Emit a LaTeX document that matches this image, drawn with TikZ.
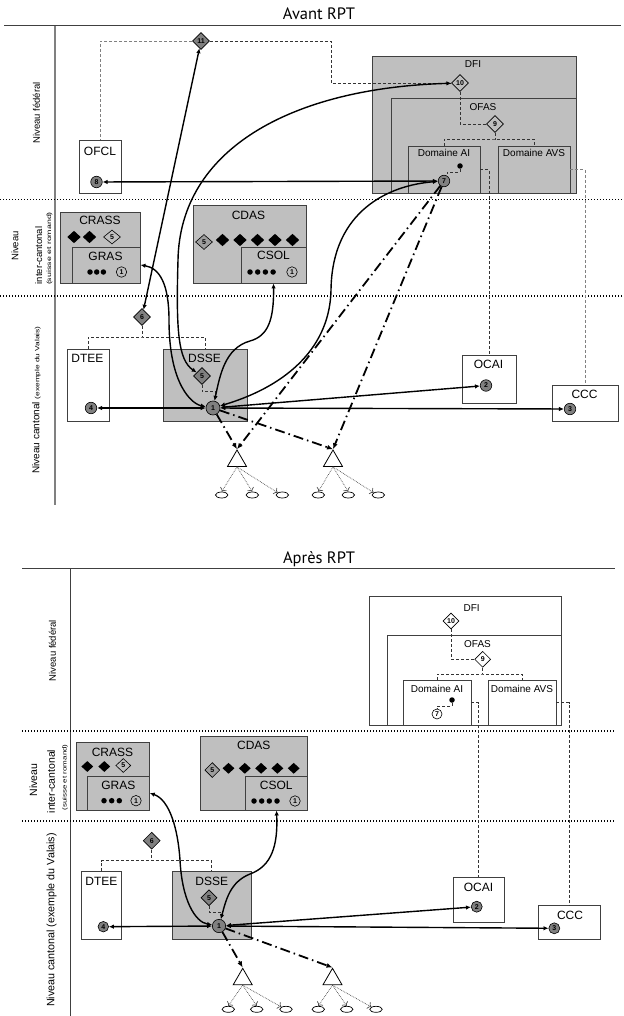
\documentclass[tikz,border=0pt]{standalone}
\usepackage{graphicx}
\usepackage{fontspec}
\setmainfont{Liberation Sans}
\newfontfamily\headfont{PT Sans}
\usetikzlibrary{shapes.geometric, arrows.meta}

\definecolor{boxgray}{gray}{0.75}
\definecolor{midgray}{gray}{0.62}
\definecolor{dkgray}{gray}{0.5}
\definecolor{edge}{gray}{0.25}

\tikzset{
  box/.style={draw=edge, line width=0.9pt, fill=white, inner sep=0pt},
  gbox/.style={box, fill=boxgray},
  lab/.style={font=\fontsize{12}{12}\selectfont, inner sep=0pt},
  sublab/.style={font=\fontsize{10}{10}\selectfont, inner sep=0pt},
  lvl/.style={rotate=90, inner sep=0pt, font=\fontsize{9.5}{10}\selectfont},
  head/.style={font=\headfont\fontsize{16.5}{17}\selectfont, inner sep=0pt, anchor=base},
  num/.style={circle, draw=black, line width=0.6pt, fill=dkgray, minimum size=11.5pt,
    inner sep=0pt, font=\fontsize{7}{7}\selectfont\bfseries},
  lnum/.style={num, fill=boxgray, minimum size=10.5pt},
  rhomb/.style={diamond, draw=black, line width=0.6pt, fill=dkgray, minimum size=17pt,
    inner sep=0pt, font=\fontsize{7}{7}\selectfont\bfseries},
  lrhomb/.style={rhomb, fill=boxgray},
  blk/.style={diamond, fill=black, minimum width=13.5pt, minimum height=12.5pt, inner sep=0pt},
  pip/.style={circle, fill=black, minimum size=5.5pt, inner sep=0pt},
  tri/.style={regular polygon, regular polygon sides=3, draw=black, line width=0.8pt,
    fill=white, minimum size=22pt, inner sep=0pt},
  oval/.style={ellipse, draw=black, line width=0.7pt, fill=white, minimum width=12.5pt,
    minimum height=6pt, inner sep=0pt},
  link/.style={line width=1.4pt, <->, >={Latex[length=5pt,width=4.5pt]}},
  flow/.style={line width=1.8pt, dash pattern=on 10pt off 4pt on 1.5pt off 4pt,
    -{Latex[length=6pt,width=5pt]}},
  sub/.style={draw=black!70, line width=0.7pt, densely dotted, -{To[length=3.5pt]}},
  hier/.style={draw=black!80, line width=0.7pt, dash pattern=on 3pt off 2pt},
  sep/.style={line width=1.2pt, dash pattern=on 1.2pt off 1.8pt},
  frame/.style={draw=black!75, line width=1pt}
}

\begin{document}
\begin{tikzpicture}[x=1pt, y=-1pt]
  \useasboundingbox (0,0) rectangle (623,1016);

  % ================= Avant RPT =================
  \node[head] (h1) at (319,19.3) {Avant RPT};
  \draw[frame] (4,26) -- (621,26);
  \draw[frame, draw=gray, line width=1.4pt] (55,26) -- (55,505);
  \draw[sep] (0,199.5) -- (623,199.5);
  \draw[sep] (0,296) -- (623,296);
  \node[lvl] (fed1) at (36.5,113) {Niveau fédéral};
  \node[lvl] (ic1a) at (15,246) {Niveau};
  \node[lvl] (ic1b) at (38.8,255.5) {inter-cantonal};
  \node[lvl] (ic1c) at (49.5,248.5) {\fontsize{8.8}{9}\selectfont\scalebox{1}[0.7]{(suisse et romand)}};
  \node[lvl, font=\fontsize{10}{10}\selectfont] (ct1) at (36.5,400)
    {Niveau cantonal \fontsize{8.3}{9}\selectfont\scalebox{1}[0.75]{(exemple du Valais)}};

  % niveau federal
  \node[box, minimum width=42pt, minimum height=53pt] (ofcl) at (100,166.5) {};
  \node[lab] (ofcl-t) at (100,151) {OFCL};
  \node[gbox, minimum width=204pt, minimum height=137pt] (dfi) at (474,124.5) {};
  \node[sublab] (dfi-t) at (473,64.5) {DFI};
  \node[gbox, minimum width=185pt, minimum height=95pt] (ofas) at (483.5,145.5) {};
  \node[sublab] (ofas-t) at (483,107) {OFAS};
  \node[gbox, minimum width=72pt, minimum height=47pt] (domai) at (444,169.5) {};
  \node[sublab] (domai-t) at (444,153) {Domaine AI};
  \node[gbox, minimum width=72pt, minimum height=47pt] (domavs) at (534,169.5) {};
  \node[sublab] (domavs-t) at (534,153) {Domaine AVS};
  \node[rhomb] (d11) at (201,41) {11};
  \node[lrhomb] (d10) at (460,83) {10};
  \node[lrhomb] (d9) at (495,124) {9};
  \node[pip] (dot7) at (460,166) {};
  \node[num] (c7) at (444,181) {7};
  \node[num] (c8) at (96.5,182) {8};

  % niveau inter-cantonal
  \node[gbox, minimum width=80pt, minimum height=71pt] (crass) at (100,247.5) {};
  \node[lab] (crass-t) at (100,220) {CRASS};
  \node[blk] (crass-a) at (74,237) {};
  \node[blk] (crass-b) at (89.5,237) {};
  \node[lrhomb, minimum width=17pt, minimum height=14pt] (crass-5) at (112,237) {5};
  \node[gbox, minimum width=68pt, minimum height=36pt] (gras) at (106,265) {};
  \node[lab] (gras-t) at (105.5,256) {GRAS};
  \node[pip] (gras-a) at (90,272) {};
  \node[pip] (gras-b) at (96.7,272) {};
  \node[pip] (gras-c) at (103.4,272) {};
  \node[lnum] (gras-1) at (121.5,272) {1};
  \node[gbox, minimum width=113pt, minimum height=78pt] (cdas) at (249.5,244) {};
  \node[lab] (cdas-t) at (248.5,215) {CDAS};
  \node[rhomb, fill=midgray, minimum width=17pt, minimum height=15pt] (cdas-5) at (204,242) {5};
  \node[blk] (cdas-a) at (222.5,240) {};
  \node[blk] (cdas-b) at (240,240) {};
  \node[blk] (cdas-c) at (257.5,240) {};
  \node[blk] (cdas-d) at (275,240) {};
  \node[blk] (cdas-e) at (292.5,240) {};
  \node[gbox, minimum width=65pt, minimum height=36pt] (csol) at (273.5,265) {};
  \node[lab] (csol-t) at (273.5,255.5) {CSOL};
  \node[pip] (csol-a) at (250,272) {};
  \node[pip] (csol-b) at (257.7,272) {};
  \node[pip] (csol-c) at (265.4,272) {};
  \node[pip] (csol-d) at (273.1,272) {};
  \node[lnum] (csol-1) at (292,272) {1};

  % niveau cantonal
  \node[rhomb] (d6) at (142,317) {6};
  \node[box, minimum width=42pt, minimum height=72pt] (dtee) at (88,385) {};
  \node[lab] (dtee-t) at (87.5,358) {DTEE};
  \node[gbox, minimum width=84pt, minimum height=72pt] (dsse) at (205,385) {};
  \node[lab] (dsse-t) at (204.5,358) {DSSE};
  \node[rhomb] (d5) at (202,376) {5};
  \node[num, minimum size=14pt] (c1) at (213,408) {1};
  \node[num] (c4) at (91,408) {4};
  \node[box, minimum width=54pt, minimum height=48pt] (ocai) at (489,379) {};
  \node[lab] (ocai-t) at (488.5,364.5) {OCAI};
  \node[num] (c2) at (486,385.5) {2};
  \node[box, minimum width=66pt, minimum height=36pt] (ccc) at (585,403) {};
  \node[lab] (ccc-t) at (584.5,394.5) {CCC};
  \node[num] (c3) at (570,409) {3};
  \node[tri] (tri1) at (237,461) {};
  \node[tri] (tri2) at (333,461) {};
  \node[oval] (o1a) at (221.7,495) {};
  \node[oval] (o1b) at (252.3,495) {};
  \node[oval] (o1c) at (282.3,495) {};
  \node[oval] (o2a) at (318.3,495) {};
  \node[oval] (o2b) at (348.3,495) {};
  \node[oval] (o2c) at (378.3,495) {};

  % liens hierarchiques
  \coordinate (k11) at (331,41);
  \coordinate (j9) at (495,139);
  \coordinate (j6) at (142,337);
  \draw[hier, draw=gray] (d11.west) -| (ofcl.north);
  \draw[hier] (d11.east) -- (k11) |- (d10.west);
  \draw[hier] (d10.south) |- (d9.west);
  \draw[hier] (d9.south) -- (j9);
  \draw[hier] (domai.north) |- (j9) -| (domavs.north);
  \draw[hier] (dot7) -- ++(0,6) -| (c7.60);
  \draw[hier] (domai.east) -| (ocai.north);
  \draw[hier, draw=gray] (domavs.east) -| (ccc.north);
  \draw[hier] (d6.south) -- (j6);
  \draw[hier] (dtee.north) |- (j6) -| (dsse.north);
  \draw[hier] (d5.south) -- ++(0,7) -| (c1.70);

  % echanges
  \draw[link] (c8) -- (c7);
  \draw[link] (d11) -- (d6);
  \draw[link] (c4) -- (c1);
  \draw[link] (c1) -- (c2);
  \draw[link] (c1) -- (c3);
  \draw[link] (d10) .. controls (290,88) and (180,150) .. (178,260)
    .. controls (176,330) and (178,360) .. (d5);
  \draw[link] (gras.east) .. controls (160,268) and (169,285) .. (169,320)
    .. controls (169,385) and (192,404) .. (c1);
  \draw[link] (csol.south) .. controls (274,320) and (268,336) .. (250,341)
    .. controls (225,348) and (220,375) .. (c1);
  \draw[link] (c1) .. controls (290,385) and (330,345) .. (331,290)
    .. controls (332,210) and (390,185) .. (c7);
  \draw[flow] (c7) -- (tri1.north);
  \draw[flow] (c7) -- (tri2.north);
  \draw[flow] (c1) -- (tri1.north);
  \draw[flow] (c1) -- (tri2.north);
  \draw[sub] (tri1.south) -- (o1a.north);
  \draw[sub] (tri1.south) -- (o1b.north);
  \draw[sub] (tri1.south) -- (o1c.north west);
  \draw[sub] (tri2.south) -- (o2a.north);
  \draw[sub] (tri2.south) -- (o2b.north);
  \draw[sub] (tri2.south) -- (o2c.north west);

  % ================= Apres RPT =================
  \node[head] (h2) at (319,563.3) {Après RPT};
  \draw[frame] (22,568) -- (615,568);
  \draw[frame] (70,568) -- (70,1016);
  \draw[sep] (22,731) -- (615,731);
  \draw[sep] (22,821) -- (615,821);
  \node[lvl] (fed2) at (52.3,650.5) {Niveau fédéral};
  \node[lvl, font=\fontsize{10.5}{11}\selectfont] (ic2a) at (33.3,780) {Niveau};
  \node[lvl, font=\fontsize{10.5}{11}\selectfont] (ic2b) at (51,781.5) {inter-cantonal};
  \node[lvl] (ic2c) at (65,777.5) {\fontsize{8}{9}\selectfont\scalebox{1}[0.75]{(suisse et romand)}};
  \node[lvl, font=\fontsize{10.7}{11}\selectfont] (ct2) at (51.7,920)
    {Niveau cantonal (exemple du Valais)};

  % niveau federal
  \node[box, minimum width=192pt, minimum height=129pt] (dfib) at (465,660.5) {};
  \node[sublab] (dfib-t) at (471.7,608) {DFI};
  \node[box, minimum width=174pt, minimum height=90pt] (ofasb) at (474,680) {};
  \node[sublab] (ofasb-t) at (477.5,644) {OFAS};
  \node[box, minimum width=68pt, minimum height=45pt] (domaib) at (437,702.5) {};
  \node[sublab] (domaib-t) at (437,688.5) {Domaine AI};
  \node[box, minimum width=68pt, minimum height=45pt] (domavsb) at (522,702.5) {};
  \node[sublab] (domavsb-t) at (522,688.5) {Domaine AVS};
  \node[rhomb, fill=white, minimum size=16pt] (d10b) at (451,621) {10};
  \node[rhomb, fill=white, minimum size=16pt] (d9b) at (482.7,659.3) {9};
  \node[pip] (dot7b) at (452,700) {};
  \node[num, fill=white, minimum size=10pt] (c7b) at (437,714) {7};

  % niveau inter-cantonal
  \node[gbox, minimum width=72.6pt, minimum height=67.3pt] (crassb) at (113,776.4) {};
  \node[lab] (crassb-t) at (112.5,752.3) {CRASS};
  \node[blk, minimum width=12pt, minimum height=11pt] (crassb-a) at (87.3,766.5) {};
  \node[blk, minimum width=12pt, minimum height=11pt] (crassb-b) at (104.3,766.5) {};
  \node[lrhomb, minimum width=15pt, minimum height=14pt] (crassb-5) at (123.3,765.5) {5};
  \node[gbox, minimum width=61.6pt, minimum height=34pt] (grasb) at (118.5,793) {};
  \node[lab] (grasb-t) at (118.3,785) {GRAS};
  \node[pip] (grasb-a) at (104,800.7) {};
  \node[pip] (grasb-b) at (111.7,800.7) {};
  \node[pip] (grasb-c) at (119.3,800.7) {};
  \node[lnum] (grasb-1) at (136,800.7) {1};
  \node[gbox, minimum width=107.3pt, minimum height=73.3pt] (cdasb) at (253.7,773.3) {};
  \node[lab] (cdasb-t) at (253.8,745.8) {CDAS};
  \node[rhomb, fill=midgray, minimum size=15pt] (cdasb-5) at (212.3,770) {5};
  \node[blk, minimum width=12pt, minimum height=11pt] (cdasb-a) at (228.5,768.3) {};
  \node[blk, minimum width=12pt, minimum height=11pt] (cdasb-b) at (244.8,768.3) {};
  \node[blk, minimum width=12pt, minimum height=11pt] (cdasb-c) at (261.1,768.3) {};
  \node[blk, minimum width=12pt, minimum height=11pt] (cdasb-d) at (277.4,768.3) {};
  \node[blk, minimum width=12pt, minimum height=11pt] (cdasb-e) at (293.7,768.3) {};
  \node[gbox, minimum width=61.6pt, minimum height=34pt] (csolb) at (276.5,793) {};
  \node[lab] (csolb-t) at (276.2,785) {CSOL};
  \node[pip] (csolb-a) at (254,801) {};
  \node[pip] (csolb-b) at (261.7,801) {};
  \node[pip] (csolb-c) at (269.3,801) {};
  \node[pip] (csolb-d) at (277,801) {};
  \node[lnum] (csolb-1) at (295,801) {1};

  % niveau cantonal
  \node[rhomb] (d6b) at (151.7,840.7) {6};
  \node[box, minimum width=39.3pt, minimum height=67.6pt] (dteeb) at (101.3,905.5) {};
  \node[lab] (dteeb-t) at (101.5,881.2) {DTEE};
  \node[gbox, minimum width=78.7pt, minimum height=67.6pt] (dsseb) at (211.7,905.5) {};
  \node[lab] (dsseb-t) at (211.7,881) {DSSE};
  \node[rhomb, minimum size=16pt] (d5b) at (209,897.7) {5};
  \node[num, minimum size=13.3pt] (c1b) at (219,926) {1};
  \node[num, minimum size=10.5pt] (c4b) at (103.3,926.7) {4};
  \node[box, minimum width=51pt, minimum height=45pt] (ocaib) at (478.8,899.8) {};
  \node[lab] (ocaib-t) at (478.5,887.5) {OCAI};
  \node[num, minimum size=11pt] (c2b) at (476.7,906.7) {2};
  \node[box, minimum width=61.7pt, minimum height=33.3pt] (cccb) at (569.2,922.3) {};
  \node[lab] (cccb-t) at (570,915) {CCC};
  \node[num, minimum size=11pt] (c3b) at (554.3,928.3) {3};
  \node[tri] (tri1b) at (242.7,979.3) {};
  \node[tri] (tri2b) at (332.5,979.3) {};
  \node[oval] (o1ab) at (228.3,1009.3) {};
  \node[oval] (o1bb) at (256.7,1009.3) {};
  \node[oval] (o1cb) at (286,1009.3) {};
  \node[oval] (o2ab) at (318.3,1009.3) {};
  \node[oval] (o2bb) at (346.7,1009.3) {};
  \node[oval] (o2cb) at (376,1009.3) {};

  % liens hierarchiques
  \coordinate (j9b) at (482.7,674);
  \coordinate (j6b) at (151.7,860.7);
  \draw[hier] (d10b.south) |- (d9b.west);
  \draw[hier] (d9b.south) -- (j9b);
  \draw[hier] (domaib.north) |- (j9b) -| (domavsb.north);
  \draw[hier] (dot7b) -- ++(0,6) -| (c7b.north);
  \draw[hier] (domaib.east) -| (ocaib.north);
  \draw[hier] (domavsb.east) -| (cccb.north);
  \draw[hier] (d6b.south) -- (j6b);
  \draw[hier] (dteeb.north) |- (j6b) -| (dsseb.north);
  \draw[hier] (d5b.south) -- ++(0,6) -| (c1b.70);

  % echanges
  \draw[link] (c4b) -- (c1b);
  \draw[link] (c1b) -- (c2b);
  \draw[link] (c1b) -- (c3b);
  \draw[link] (grasb.east) .. controls (170,800) and (178,830) .. (180,860)
    .. controls (182,900) and (195,922) .. (c1b);
  \draw[link] (csolb.south) .. controls (278,845) and (272,866) .. (250,874)
    .. controls (230,882) and (226,900) .. (c1b);
  \draw[flow] (c1b) -- (tri1b.north);
  \draw[flow] (c1b) -- (tri2b.north);
  \draw[sub] (tri1b.south) -- (o1ab.north);
  \draw[sub] (tri1b.south) -- (o1bb.north);
  \draw[sub] (tri1b.south) -- (o1cb.north west);
  \draw[sub] (tri2b.south) -- (o2ab.north);
  \draw[sub] (tri2b.south) -- (o2bb.north);
  \draw[sub] (tri2b.south) -- (o2cb.north west);
\end{tikzpicture}
\end{document}
